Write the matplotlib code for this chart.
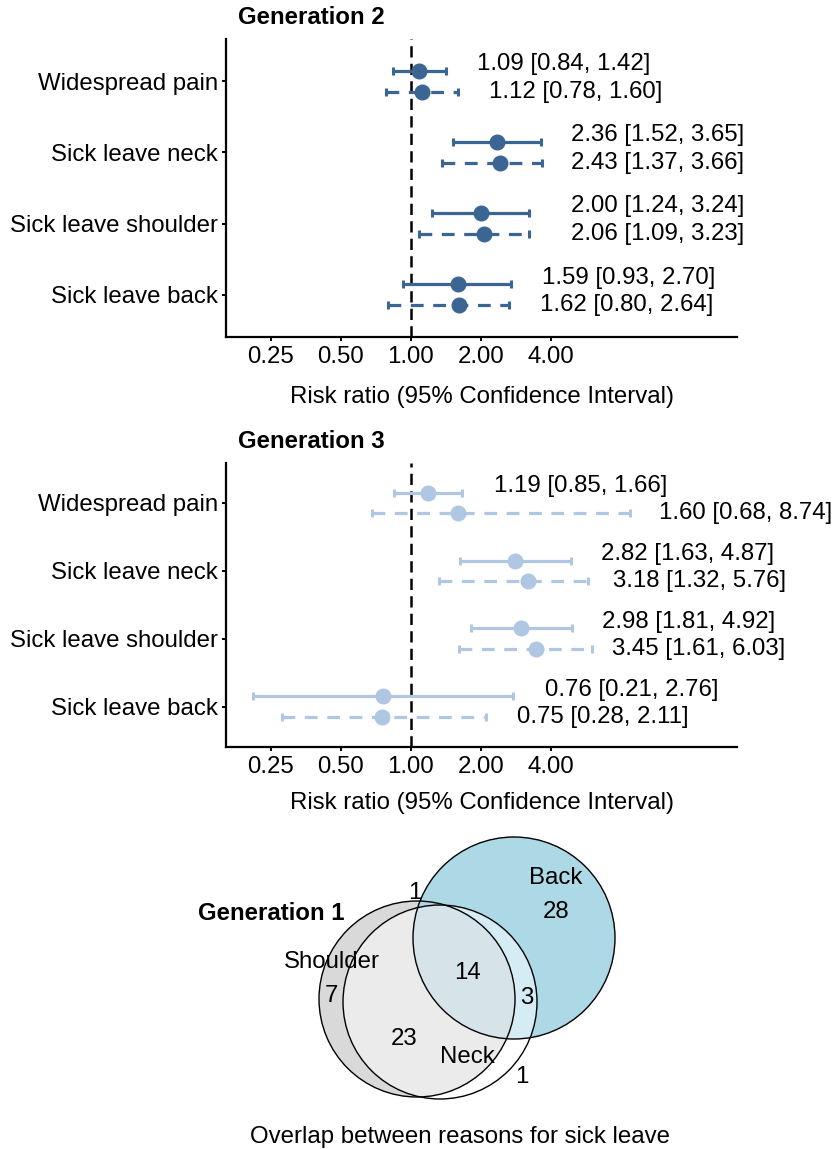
import matplotlib.pyplot as plt
import numpy as np
from matplotlib.patches import Circle, Polygon
from matplotlib.transforms import ScaledTranslation

plt.rcParams["font.family"] = ["Liberation Sans", "DejaVu Sans"]
plt.rcParams["font.size"] = 17.3

# ---------------------------------------------------------------------------
# Data
# ---------------------------------------------------------------------------
outcomes = ["Widespread pain", "Sick leave neck", "Sick leave shoulder", "Sick leave back"]

# Generation 2: solid (model A) and dashed (model B)
gen2_rr_a = [1.09, 2.36, 2.00, 1.59]
gen2_lo_a = [0.84, 1.52, 1.24, 0.93]
gen2_hi_a = [1.42, 3.65, 3.24, 2.70]
gen2_rr_b = [1.12, 2.43, 2.06, 1.62]
gen2_lo_b = [0.78, 1.37, 1.09, 0.80]
gen2_hi_b = [1.60, 3.66, 3.23, 2.64]

# Generation 3
gen3_rr_a = [1.19, 2.82, 2.98, 0.76]
gen3_lo_a = [0.85, 1.63, 1.81, 0.21]
gen3_hi_a = [1.66, 4.87, 4.92, 2.76]
gen3_rr_b = [1.60, 3.18, 3.45, 0.75]
gen3_lo_b = [0.68, 1.32, 1.61, 0.28]
gen3_hi_b = [8.74, 5.76, 6.03, 2.11]

xticks = [0.25, 0.5, 1.0, 2.0, 4.0]
xtick_labels = ["0.25", "0.50", "1.00", "2.00", "4.00"]

# Generation 1 overlap counts
venn_sets = ["Shoulder", "Neck", "Back"]
n_shoulder_only = 7
n_neck_only = 1
n_back_only = 28
n_shoulder_neck = 23
n_neck_back = 3
n_shoulder_back = 1
n_all = 14

# ---------------------------------------------------------------------------
# Style
# ---------------------------------------------------------------------------
GEN2_COLOR = "#3B6593"
GEN3_COLOR = "#AFC7E3"
W, H = 835, 1149

# extra horizontal padding (pixels) of the estimate labels beyond the upper CI
gen2_pad_a = [31, 30, 42, 31]
gen2_pad_b = [31, 29, 42, 31]
gen3_pad_a = [32, 30, 30, 32]
gen3_pad_b = [29, 25, 20, 31]

fig = plt.figure(figsize=(W / 100, H / 100), dpi=100)


def forest(ax, rr_a, lo_a, hi_a, rr_b, lo_b, hi_b, color, pad_a, pad_b, xlabel_pad):
    rows = np.arange(len(outcomes), 0, -1)
    ax.axvline(1.0, color="black", lw=1.8, ls=(0, (4.5, 2.5)), zorder=1)
    for rr, lo, hi, off, ls, pad, dy in [
        (rr_a, lo_a, hi_a, 0.15, "-", pad_a, 0.24),
        (rr_b, lo_b, hi_b, -0.15, (0, (4, 3)), pad_b, -0.15),
    ]:
        rr = np.array(rr)
        err = [rr - np.array(lo), np.array(hi) - rr]
        _, caps, bars = ax.errorbar(
            rr, rows + off, xerr=err, fmt="o", color=color, ms=10.5,
            elinewidth=2.3, capsize=2.6, capthick=2.2, zorder=3,
        )
        for b in bars:
            b.set_linestyle(ls)
        for i in range(len(rows)):
            ax.annotate(
                f"{rr[i]:.2f} [{lo[i]:.2f}, {hi[i]:.2f}]",
                xy=(hi[i], rows[i] + dy), xytext=(pad[i], 0),
                textcoords="offset pixels", ha="left", va="center",
                annotation_clip=False,
            )
    ax.set_xscale("log", base=2)
    ax.set_xlim(0.1606, 25.3)
    ax.set_ylim(0.41, 4.59)
    ax.set_xticks(xticks)
    ax.set_xticklabels(xtick_labels)
    ax.minorticks_off()
    ax.set_yticks(rows)
    ax.set_yticklabels(outcomes)
    # row labels sit a few pixels above their tick in the original
    shift = ScaledTranslation(0, 6 / 100, fig.dpi_scale_trans)
    for lab in ax.get_yticklabels():
        lab.set_transform(lab.get_transform() + shift)
    for s in ["top", "right"]:
        ax.spines[s].set_visible(False)
    for s in ["left", "bottom"]:
        ax.spines[s].set_linewidth(1.6)
    ax.tick_params(axis="x", length=3, width=1.4, pad=4)
    ax.tick_params(axis="y", length=3, width=1.4, pad=3)
    ax.set_xlabel("Risk ratio (95% Confidence Interval)", labelpad=xlabel_pad)


ax2 = fig.add_axes([226 / W, 1 - 336.7 / H, 511 / W, 297.4 / H])
forest(ax2, gen2_rr_a, gen2_lo_a, gen2_hi_a, gen2_rr_b, gen2_lo_b, gen2_hi_b,
       GEN2_COLOR, gen2_pad_a, gen2_pad_b, 12.5)
fig.text(238 / W, 1 - 18 / H, "Generation 2", fontweight="bold", ha="left", va="center")

ax3 = fig.add_axes([226 / W, 1 - 746.7 / H, 511 / W, 284 / H])
forest(ax3, gen3_rr_a, gen3_lo_a, gen3_hi_a, gen3_rr_b, gen3_lo_b, gen3_hi_b,
       GEN3_COLOR, gen3_pad_a, gen3_pad_b, 9.5)
fig.text(238 / W, 1 - 441 / H, "Generation 3", fontweight="bold", ha="left", va="center")

# ---------------------------------------------------------------------------
# Venn diagram (pixel-like coordinates)
# ---------------------------------------------------------------------------
axv = fig.add_axes([0, 0, 1, 330 / H])
axv.set_xlim(0, W)
axv.set_ylim(H, H - 330)
axv.set_axis_off()

circ = {
    "Shoulder": ((417, 999), 98),
    "Neck": ((440, 1002), 97),
    "Back": ((514, 938), 101),
}


def clip_circle(name):
    c, r = circ[name]
    return Circle(c, r, transform=axv.transData)


def lens(a, b, n=720):
    (c1, r1), (c2, r2) = circ[a], circ[b]
    t = np.linspace(0, 2 * np.pi, n, endpoint=False)
    p1 = np.c_[c1[0] + r1 * np.cos(t), c1[1] + r1 * np.sin(t)]
    p2 = np.c_[c2[0] + r2 * np.cos(t), c2[1] + r2 * np.sin(t)]
    p1 = p1[np.hypot(p1[:, 0] - c2[0], p1[:, 1] - c2[1]) <= r2]
    p2 = p2[np.hypot(p2[:, 0] - c1[0], p2[:, 1] - c1[1]) <= r1]
    pts = np.vstack([p1, p2])
    m = pts.mean(axis=0)
    pts = pts[np.argsort(np.arctan2(pts[:, 1] - m[1], pts[:, 0] - m[0]))]
    return pts


for name, col in [("Shoulder", "#D9D9D9"), ("Back", "#ADD8E6"), ("Neck", "white")]:
    c, r = circ[name]
    axv.add_patch(Circle(c, r, facecolor=col, edgecolor="none", zorder=1))

p = axv.add_patch(Circle(*circ["Neck"], facecolor="#EBEBEB", edgecolor="none", zorder=2))
p.set_clip_path(clip_circle("Shoulder"))
p = axv.add_patch(Circle(*circ["Neck"], facecolor="#D5ECF4", edgecolor="none", zorder=2))
p.set_clip_path(clip_circle("Back"))
p = axv.add_patch(Polygon(lens("Neck", "Back"), closed=True, facecolor="#D6E4EA",
                          edgecolor="none", zorder=3))
p.set_clip_path(clip_circle("Shoulder"))

for name in venn_sets:
    c, r = circ[name]
    axv.add_patch(Circle(c, r, facecolor="none", edgecolor="black", lw=1.0, zorder=4))

venn_text = [
    (venn_sets[2], 556, 878),
    (str(n_back_only), 556, 912),
    (str(n_shoulder_back), 415, 893),
    (venn_sets[0], 332, 962),
    (str(n_shoulder_only), 331, 996),
    (str(n_all), 467, 973),
    (str(n_neck_back), 527, 998),
    (str(n_shoulder_neck), 404, 1039),
    (venn_sets[1], 467, 1057),
    (str(n_neck_only), 522, 1077),
]
for s, x, y in venn_text:
    axv.text(x, y, s, ha="center", va="center", zorder=5)

axv.text(198, 913, "Generation 1", fontweight="bold", ha="left", va="center", zorder=5)
axv.text(460, 1137, "Overlap between reasons for sick leave", ha="center", va="center")

fig.savefig("out.png", dpi=100)
